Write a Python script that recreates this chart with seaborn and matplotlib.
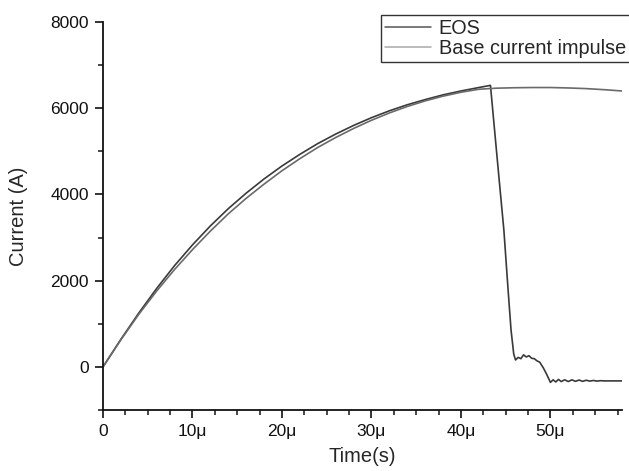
import matplotlib
matplotlib.use("Agg")
import matplotlib.pyplot as plt
import seaborn as sns
import pandas as pd
from matplotlib.ticker import MultipleLocator, FuncFormatter

# -----------------------------
# data (time in microseconds, current in A)
# -----------------------------
eos_t = [0, 2, 4, 6, 8, 10, 12, 14, 16, 18, 20, 22, 24, 26, 28, 30, 32, 34,
         36, 38, 40, 42, 43.3, 43.8, 44.3, 44.8, 45.3, 45.6, 45.9, 46.1,
         46.4, 46.7, 47.0, 47.3, 47.6, 47.9, 48.2, 48.5, 48.8, 49.2, 49.6,
         50.0, 50.3, 50.6, 50.9, 51.2, 51.6, 52.0, 52.4, 52.8, 53.2, 53.6,
         54.0, 54.4, 54.8, 55.2, 55.6, 56.0, 57.0, 58.0]
eos_i = [0, 640, 1250, 1820, 2350, 2830, 3270, 3670, 4030, 4360, 4660, 4930,
         5180, 5400, 5600, 5780, 5940, 6080, 6200, 6310, 6400, 6480, 6530,
         5400, 4280, 3170, 1700, 855, 300, 160, 220, 190, 280, 230, 260, 200,
         190, 140, 110, -20, -180, -360, -300, -350, -290, -340, -300, -340,
         -300, -335, -305, -335, -310, -330, -315, -330, -320, -325, -325,
         -325]

base_t = [0, 2, 4, 6, 8, 10, 12, 14, 16, 18, 20, 22, 24, 26, 28, 30, 32, 34,
          36, 38, 40, 42, 44, 46, 48, 50, 52, 54, 56, 58]
base_i = [0, 630, 1220, 1760, 2260, 2720, 3150, 3550, 3910, 4240, 4550, 4830,
          5090, 5320, 5530, 5720, 5890, 6040, 6170, 6280, 6370, 6440, 6465,
          6475, 6480, 6480, 6470, 6455, 6430, 6400]

x_ticks = [0, 10, 20, 30, 40, 50]

df = pd.concat([
    pd.DataFrame({"t": [v * 1e-6 for v in eos_t], "I": eos_i, "series": "EOS"}),
    pd.DataFrame({"t": [v * 1e-6 for v in base_t], "I": base_i,
                  "series": "Base current impulse"}),
])

sns.set_style("ticks")
plt.rcParams["font.family"] = ["Liberation Sans", "DejaVu Sans"]

fig = plt.figure(figsize=(6.29, 4.71), dpi=100)
ax = fig.add_axes([103 / 629, 61 / 471, 519 / 629, 388 / 471])

sns.lineplot(data=df, x="t", y="I", hue="series", sort=False,
             palette={"EOS": "#3a3a3a", "Base current impulse": "#6a6a6a"},
             linewidth=1.2, ax=ax, legend=False)

ax.set_xlim(0, 58e-6)
ax.set_ylim(-1000, 8000)
ax.set_xticks([v * 1e-6 for v in x_ticks])
ax.xaxis.set_minor_locator(MultipleLocator(2.5e-6))
ax.yaxis.set_major_locator(MultipleLocator(2000))
ax.yaxis.set_minor_locator(MultipleLocator(1000))
ax.xaxis.set_major_formatter(
    FuncFormatter(lambda v, p: "0" if abs(v) < 1e-9 else f"{round(v * 1e6):d}\u03bc"))
ax.tick_params(which="major", length=6, width=1.2, labelsize=12.5,
               colors="#111", pad=4)
ax.tick_params(which="minor", length=3.5, width=1.2)
for s in ["top", "right"]:
    ax.spines[s].set_visible(False)
for s in ["left", "bottom"]:
    ax.spines[s].set_linewidth(1.3)
    ax.spines[s].set_color("#111")

ax.set_xlabel("Time(s)", fontsize=14.5, labelpad=6)
ax.set_ylabel("Current (A)", fontsize=14.5, labelpad=16)

# -----------------------------
# legend (box runs off the right edge)
# -----------------------------
handles = [plt.Line2D([], [], color="#555555", lw=1.1),
           plt.Line2D([], [], color="#aaaaaa", lw=1.1)]
fig.legend(handles, ["EOS", "Base current impulse"], loc="upper left",
           bbox_to_anchor=(381 / 629, 1 - 15 / 471), fontsize=14.3,
           frameon=True, fancybox=False, edgecolor="#333333", framealpha=1,
           borderaxespad=0, handlelength=2.3, handletextpad=0.4,
           labelspacing=0.05, borderpad=0.2)

fig.savefig("out.png", dpi=100)
